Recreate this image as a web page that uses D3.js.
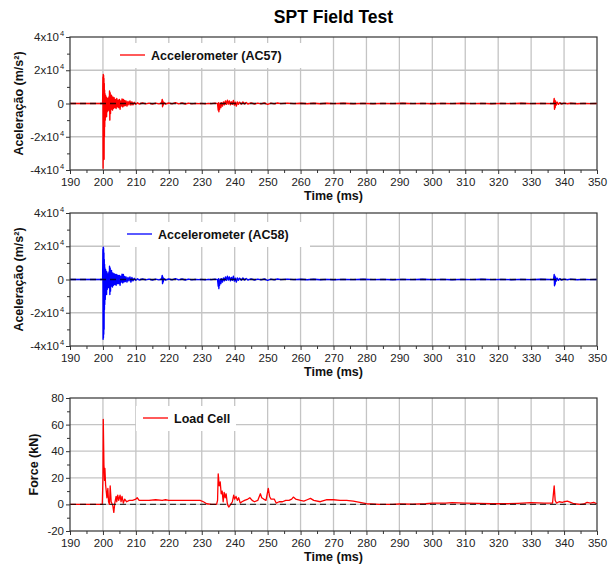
<!DOCTYPE html>
<html>
<head>
<meta charset="utf-8">
<script src="https://cdn.jsdelivr.net/npm/d3@7"></script>
<style>
  html, body { margin: 0; padding: 0; background: #fff; }
  svg { display: block; font-family: "Liberation Sans", Arial, sans-serif; }
</style>
</head>
<body>
<svg id="chart" width="613" height="575"></svg>
<script>
// Time axis (ms)
const timeTicks = [190, 200, 210, 220, 230, 240, 250, 260, 270, 280, 290, 300, 310, 320, 330, 340, 350];
const accelTicks = [-40000, -20000, 0, 20000, 40000];
const accelTickLabels = [["-4x10", "4"], ["-2x10", "4"], ["0", ""], ["2x10", "4"], ["4x10", "4"]];
const forceTicks = [-20, 0, 20, 40, 60, 80];

// Accelerometer AC57: [time ms, acceleration m/s²]
const ac57 = [
  [190, 0], [199.9, 0],
  [200.0, 16000], [200.05, -39000], [200.1, 17500], [200.15, -34000], [200.2, 16800], [200.25, -33000],
  [200.3, 15000], [200.35, -33500], [200.4, 12000], [200.45, -20000], [200.5, 8000], [200.55, -14000],
  [200.6, 6000], [200.7, -10000], [200.8, 5000], [200.9, -7000], [201.0, 4000], [201.1, -8000],
  [201.2, 3500], [201.3, -5000], [201.4, 3000], [201.5, -4000], [201.6, 2500], [201.7, -3000],
  [201.8, 4000], [201.9, -4500], [202.0, 7500], [202.1, -10000], [202.2, 6500], [202.3, -6000],
  [202.4, 4000], [202.5, -3500], [202.6, 5000], [202.7, -2500], [202.8, 3000], [202.9, -4000],
  [203.0, 4000], [203.2, -3000], [203.4, 3500], [203.6, -2500], [203.8, 2500], [204.0, -3000],
  [204.2, 3000], [204.4, -2000], [204.6, 2000], [204.8, -2500], [205.0, 2500], [205.2, -3500],
  [205.4, 1500], [205.6, -1500], [205.8, 2800], [206.0, -2000], [206.2, 2500], [206.4, -1500],
  [206.6, 1800], [206.8, -1200], [207.0, 1500], [207.3, -1500], [207.6, 1200], [207.9, -800],
  [208.2, 1500], [208.5, -1000], [208.8, 1000], [209.1, -800], [209.5, 700], [210, -500],
  [210.5, 400], [211, -300], [212, 300], [213, -200], [214, 200], [215, -300], [216, 200],
  [217, -200], [217.8, 300], [218.0, 2500], [218.1, -2000], [218.2, 1500], [218.3, -1000],
  [218.5, 600], [219, -300], [220, 300], [221, -200], [222, 500], [223, -200], [224, 300],
  [225, -300], [226, 200], [227, -200], [228, 100], [229, -100], [230, 100], [231, -200],
  [232, 100], [233, -100], [234, 200], [234.8, -100], [235.0, -4000], [235.1, 500], [235.2, -5000],
  [235.3, -1000], [235.4, -3500], [235.6, 200], [235.8, -2500], [236.0, 500], [236.3, -1500],
  [236.6, 1000], [236.9, -800], [237.2, 1500], [237.5, -500], [237.8, 2000], [238.1, -300],
  [238.4, 1500], [238.7, -800], [239.0, 1000], [239.3, -500], [239.6, 1800], [239.9, -1000],
  [240.2, 800], [240.5, -1500], [240.8, 1000], [241.1, -500], [241.5, 800], [242, -400],
  [242.5, 900], [243, -300], [243.5, 600], [244, -300], [245, 400], [246, -300], [247, 200],
  [248, -200], [249, 300], [250, -500], [251, 200], [252, -200], [253, 300], [254, -100],
  [256, 200], [258, -100], [260, 150], [262, -150], [264, 120], [266, -120], [268, 150],
  [270, -100], [273, 120], [276, -120], [279, 100], [282, -120], [285, 100], [288, -100],
  [291, 120], [294, -100], [297, 100], [300, -120], [303, 100], [306, -100], [309, 120],
  [312, -100], [315, 100], [318, -120], [321, 100], [324, -100], [327, 120], [330, -100],
  [333, 100], [336.8, -100], [337.0, 3000], [337.1, -3500], [337.2, 2000],
  [337.3, -2500], [337.4, 1500], [337.6, -1000], [337.9, 800], [338.3, -500], [338.7, 500],
  [339.2, -300], [340, 200], [341, -150], [342, 150], [344, -120], [346, 100], [348, -100], [350, 0]
];

// Accelerometer AC58: [time ms, acceleration m/s²]
const ac58 = [
  [190, 0], [199.9, 0],
  [200.0, 18000], [200.05, -36000], [200.1, 19500], [200.15, -35000], [200.2, 19000], [200.25, -33000],
  [200.3, 16000], [200.35, -30000], [200.4, 12000], [200.45, -18000], [200.5, 9000], [200.55, -15000],
  [200.6, 7000], [200.7, -12000], [200.8, 6000], [200.9, -8000], [201.0, 5000], [201.1, -9000],
  [201.2, 4500], [201.3, -6000], [201.4, 3500], [201.5, -5000], [201.6, 3000], [201.7, -3500],
  [201.8, 4500], [201.9, -5000], [202.0, 8000], [202.1, -9000], [202.2, 7000], [202.3, -7000],
  [202.4, 4500], [202.5, -4000], [202.6, 5500], [202.7, -3000], [202.8, 3500], [202.9, -4500],
  [203.0, 4000], [203.2, -3500], [203.4, 3500], [203.6, -3000], [203.8, 3000], [204.0, -3500],
  [204.2, 3000], [204.4, -2500], [204.6, 2500], [204.8, -2500], [205.0, 2500], [205.2, -3500],
  [205.4, 2000], [205.6, -1500], [205.8, 3200], [206.0, -2000], [206.2, 3000], [206.4, -1500],
  [206.6, 1800], [206.8, -1200], [207.0, 1500], [207.3, -1500], [207.6, 1200], [207.9, -800],
  [208.2, 1500], [208.5, -1500], [208.8, 1200], [209.1, -800], [209.5, 700], [210, -500],
  [210.5, 400], [211, -300], [212, 300], [213, -200], [214, 200], [215, -300], [216, 200],
  [217, -200], [217.8, 300], [218.0, 2500], [218.1, -2500], [218.2, 1500], [218.3, -1500],
  [218.5, 600], [219, -300], [220, 300], [221, -200], [222, 500], [223, -200], [224, 300],
  [225, -300], [226, 200], [227, -200], [228, 100], [229, -100], [230, 100], [231, -200],
  [232, 100], [233, -100], [234, 200], [234.8, -100], [235.0, -4000], [235.1, 500], [235.2, -5500],
  [235.3, -1000], [235.4, -3500], [235.6, 200], [235.8, -2500], [236.0, 500], [236.3, -1500],
  [236.6, 1000], [236.9, -800], [237.2, 1500], [237.5, -500], [237.8, 2000], [238.1, -300],
  [238.4, 1500], [238.7, -800], [239.0, 1200], [239.3, -500], [239.6, 2000], [239.9, -1000],
  [240.2, 800], [240.5, -1500], [240.8, 1000], [241.1, -500], [241.5, 800], [242, -400],
  [242.5, 900], [243, -300], [243.5, 600], [244, -300], [245, 400], [246, -300], [247, 200],
  [248, -200], [249, 300], [250, -500], [251, 200], [252, -200], [253, 300], [254, -100],
  [256, 200], [258, -100], [260, 150], [262, -120], [264, 120], [266, -150], [268, 100],
  [270, -120], [273, 100], [276, -100], [279, 120], [282, -100], [285, 100], [288, -120],
  [291, 100], [294, -100], [297, 120], [300, -100], [303, 100], [306, -120], [309, 100],
  [312, -100], [315, 120], [318, -100], [321, 100], [324, -120], [327, 100], [330, -100],
  [333, 120], [336.8, -100], [337.0, 3000], [337.1, -3800], [337.2, 2200],
  [337.3, -2800], [337.4, 1500], [337.6, -1000], [337.9, 800], [338.3, -500], [338.7, 500],
  [339.2, -300], [340, 200], [341, -150], [342, 200], [344, -120], [346, 100], [348, -100], [350, 0]
];

// Load cell: [time ms, force kN]
const loadCell = [
  [190, 0], [199.8, 0], [200.0, 20], [200.1, 64], [200.3, 30], [200.5, 18], [200.6, 27], [200.8, 15],
  [201.0, 10], [201.2, 5], [201.5, 12], [201.7, 2], [202.0, 0], [202.2, 14], [202.5, 2], [203.0, -1],
  [203.3, -6], [203.6, 1], [204.0, 6], [204.2, 2], [204.5, 7], [204.8, 3], [205.2, 7], [205.5, 2],
  [205.8, 6], [206.2, 1], [206.6, 4], [207.2, 2], [208, 3], [209, 3], [210, 4], [210.4, 5],
  [211, 3], [212, 3], [214, 3], [216, 3.5], [218, 3], [219, 3.5], [220, 3], [222, 3], [224, 3],
  [226, 3], [228, 3], [229.5, 3], [230.5, 2], [231.5, 0.5], [233, 0], [234.5, 0], [234.8, 3],
  [235.0, 23], [235.3, 14], [235.6, 17], [235.9, 8], [236.2, 10], [236.5, 2], [236.8, 9], [237.1, 5],
  [237.4, 8], [237.8, 0], [238.2, -2], [238.8, 0], [239.3, 2], [239.7, 7], [240.0, 4], [240.4, 6],
  [240.8, 3], [241.2, 5], [241.7, 1], [242.2, 2], [243, 3], [244, 4], [244.6, 5], [245.3, 3],
  [246, 2], [247, 3], [247.8, 8], [248.2, 5], [248.8, 4], [249.5, 3], [250.2, 12], [250.6, 6],
  [251, 4], [252, 4], [252.6, 1], [253.5, 2], [254.5, 2], [255.5, 3], [256.5, 3], [257.3, 4],
  [257.8, 5.5], [258.5, 4], [260, 3], [261, 2.5], [262, 3.5], [263, 4.5], [264, 3], [266, 2],
  [268, 3.5], [270, 3.5], [272, 3], [274, 3], [276, 2.5], [278, 1.5], [280, 0.5], [284, 0],
  [288, 0], [290, 0.3], [294, 0.2], [298, 0.5], [300, 1], [304, 1], [306, 1.3], [310, 1],
  [314, 0.8], [318, 0.5], [322, 0.5], [326, 0.8], [330, 1.3], [334, 1], [336.5, 1], [337.0, 14],
  [337.3, 3], [337.7, 1], [338.5, 2], [339.5, 1.5], [340, 2], [341, 2.5], [342, 1.5], [343, 0.5],
  [345, 0], [346, 0.3], [347, 1.5], [348, 1], [349, 1.5], [350, 0.5]
];

const svg = d3.select("#chart");
const left = 70, right = 597;
const x = d3.scaleLinear().domain([190, 350]).range([left, right]);

svg.append("text")
  .attr("x", (left + right) / 2).attr("y", 23)
  .attr("text-anchor", "middle")
  .attr("font-size", 17.5).attr("font-weight", "bold")
  .text("SPT Field Test");

const panels = [
  { top: 37, bottom: 170, domain: [-40000, 40000], ticks: accelTicks, minor: [-30000, -10000, 10000, 30000],
    labels: accelTickLabels, data: ac57, color: "#ff0000", yLabel: "Aceleração (m/s²)", yLabelX: 23,
    legend: "Accelerometer (AC57)", legX: 120, legY: 55, boxW: 190, width: 1.4 },
  { top: 213, bottom: 346, domain: [-40000, 40000], ticks: accelTicks, minor: [-30000, -10000, 10000, 30000],
    labels: accelTickLabels, data: ac58, color: "#0000ff", yLabel: "Aceleração (m/s²)", yLabelX: 23,
    legend: "Accelerometer (AC58)", legX: 127, legY: 234, boxW: 190, width: 1.4 },
  { top: 398, bottom: 531, domain: [-20, 80], ticks: forceTicks, minor: [-10, 10, 30, 50, 70],
    labels: forceTicks.map(d => [String(d), ""]), data: loadCell, color: "#ff0000", yLabel: "Force (kN)", yLabelX: 38,
    legend: "Load Cell", legX: 143, legY: 418, boxW: 100, width: 1.3 }
];

const minorX = d3.range(195, 350, 10);

panels.forEach(p => {
  const y = d3.scaleLinear().domain(p.domain).range([p.bottom, p.top]);
  const g = svg.append("g");

  // grid
  g.selectAll(".vg").data(timeTicks.slice(1, -1)).join("line")
    .attr("x1", d => x(d)).attr("x2", d => x(d))
    .attr("y1", p.top).attr("y2", p.bottom)
    .attr("stroke", "#c4c4c4").attr("stroke-width", 1.3);
  g.selectAll(".hg").data(p.ticks.slice(1, -1)).join("line")
    .attr("x1", left).attr("x2", right)
    .attr("y1", d => y(d)).attr("y2", d => y(d))
    .attr("stroke", "#c4c4c4").attr("stroke-width", 1.3);

  // legend box
  const lg = g.append("g");
  lg.append("rect")
    .attr("x", p.legX - 7).attr("y", p.legY - 12)
    .attr("width", p.boxW).attr("height", 25)
    .attr("fill", "#fff");
  lg.append("line")
    .attr("x1", p.legX).attr("x2", p.legX + 25)
    .attr("y1", p.legY).attr("y2", p.legY)
    .attr("stroke", p.color).attr("stroke-width", 1.3);
  lg.append("text")
    .attr("x", p.legX + 31).attr("y", p.legY + 4.5)
    .attr("font-size", 12.5).attr("font-weight", "bold").attr("fill", "#111")
    .text(p.legend);

  // signal
  g.append("path")
    .datum(p.data)
    .attr("fill", "none")
    .attr("stroke", p.color)
    .attr("stroke-width", p.width)
    .attr("stroke-linejoin", "round")
    .attr("d", d3.line().x(d => x(d[0])).y(d => y(d[1])));

  // zero reference, dashed, over the signal
  g.append("line")
    .attr("x1", left).attr("x2", right)
    .attr("y1", y(0)).attr("y2", y(0))
    .attr("stroke", "#000").attr("stroke-opacity", 0.75).attr("stroke-width", 1.4)
    .attr("stroke-dasharray", "6,4");

  // frame
  g.append("rect")
    .attr("x", left).attr("y", p.top)
    .attr("width", right - left).attr("height", p.bottom - p.top)
    .attr("fill", "none").attr("stroke", "#333").attr("stroke-width", 1.2);

  // x axis
  const xAxis = g.append("g").attr("transform", `translate(0,${p.bottom})`)
    .call(d3.axisBottom(x).tickValues(timeTicks).tickSize(4).tickPadding(4).tickFormat(d3.format("d")));
  xAxis.select(".domain").remove();
  xAxis.selectAll("line").attr("stroke", "#333");
  xAxis.selectAll("text").attr("font-size", 11.5).attr("fill", "#222")
    .attr("font-family", "Liberation Sans, Arial, sans-serif");
  g.append("g").attr("transform", `translate(0,${p.bottom})`)
    .call(d3.axisBottom(x).tickValues(minorX).tickSize(3).tickFormat(""))
    .call(a => a.select(".domain").remove())
    .selectAll("line").attr("stroke", "#333");

  // y axis
  const yAxis = g.append("g").attr("transform", `translate(${left},0)`)
    .call(d3.axisLeft(y).tickValues(p.ticks).tickSize(4).tickPadding(4).tickFormat(""));
  yAxis.select(".domain").remove();
  yAxis.selectAll("line").attr("stroke", "#333");
  g.append("g").attr("transform", `translate(${left},0)`)
    .call(d3.axisLeft(y).tickValues(p.minor).tickSize(3).tickFormat(""))
    .call(a => a.select(".domain").remove())
    .selectAll("line").attr("stroke", "#333");

  p.ticks.forEach((t, i) => {
    const [base, exp] = p.labels[i];
    g.append("text")
      .attr("x", left - 6 - (exp ? 5 : 0)).attr("y", y(t) + 4)
      .attr("text-anchor", "end")
      .attr("font-size", 11.5).attr("fill", "#222")
      .text(base);
    if (exp) {
      g.append("text")
        .attr("x", left - 10).attr("y", y(t) - 1)
        .attr("font-size", 7.5).attr("fill", "#222")
        .text(exp);
    }
  });

  // axis titles
  g.append("text")
    .attr("x", (left + right) / 2).attr("y", p.bottom + 30)
    .attr("text-anchor", "middle")
    .attr("font-size", 12.5).attr("font-weight", "bold").attr("fill", "#111")
    .text("Time (ms)");
  g.append("text")
    .attr("transform", `translate(${p.yLabelX},${(p.top + p.bottom) / 2}) rotate(-90)`)
    .attr("text-anchor", "middle")
    .attr("font-size", 12.5).attr("font-weight", "bold").attr("fill", "#111")
    .text(p.yLabel);
});
</script>
</body>
</html>
